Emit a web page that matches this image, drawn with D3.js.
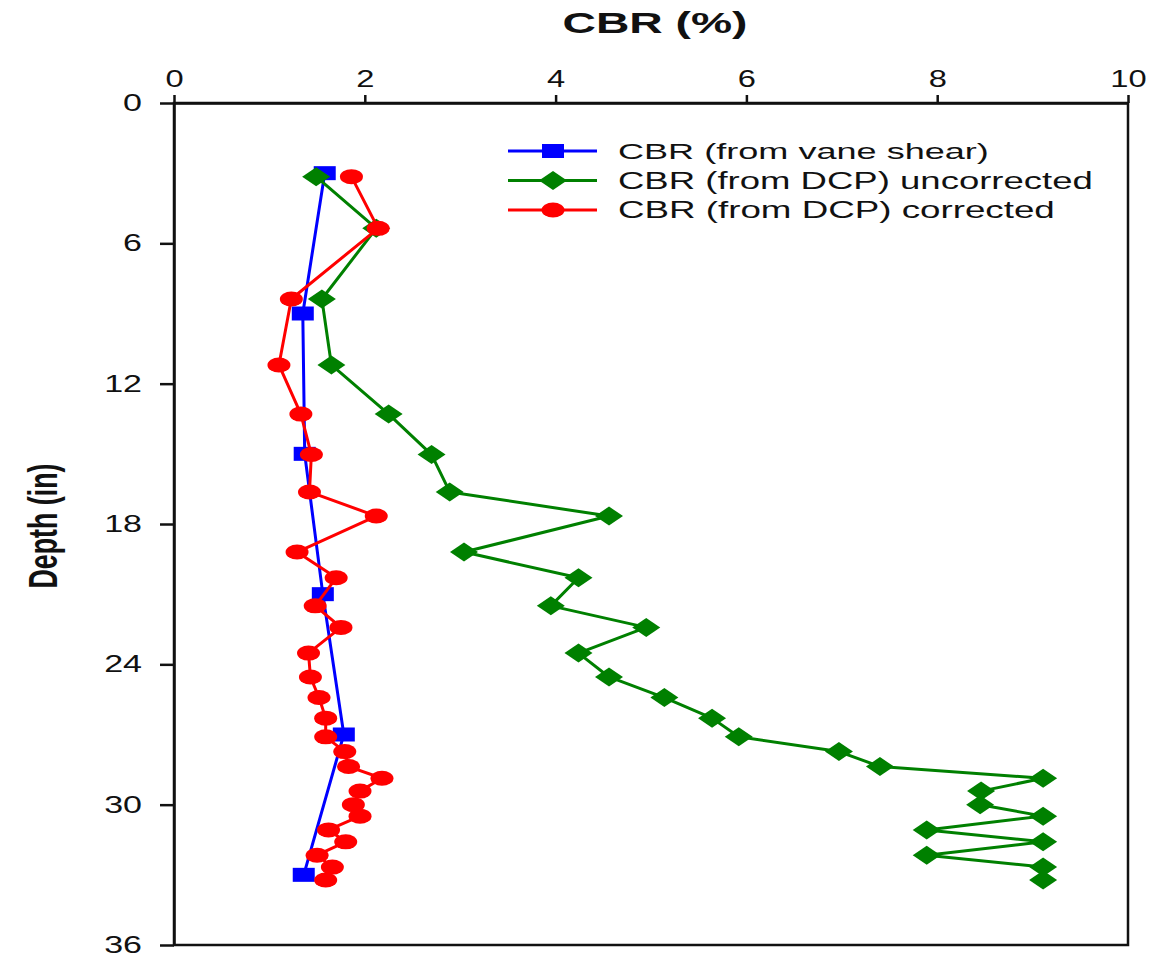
<!DOCTYPE html>
<html>
<head>
<meta charset="utf-8">
<script src="https://cdn.jsdelivr.net/npm/d3@7"></script>
<style>
  html, body { margin: 0; padding: 0; background: #fff; }
  svg { display: block; font-family: "Liberation Sans", Arial, sans-serif; }
</style>
</head>
<body>
<svg id="chart" width="1170" height="956"></svg>
<script>
// ---- data ----
const xTicks = [0, 2, 4, 6, 8, 10];
const yTicks = [0, 6, 12, 18, 24, 30, 36];

const vaneDepth = [3, 9, 15, 21, 27, 33];
const vaneCBR   = [1.58, 1.35, 1.37, 1.56, 1.78, 1.36];

const dcpDepth = [3.15, 5.36, 8.38, 11.2, 13.3, 15.03, 16.63, 17.66, 19.2, 20.3,
                  21.5, 22.42, 23.52, 24.54, 25.42, 26.3, 27.1, 27.73, 28.37, 28.87,
                  29.42, 30.0, 30.49, 31.08, 31.59, 32.16, 32.67, 33.22];
const dcpUncorrected = [1.49, 2.12, 1.55, 1.65, 2.25, 2.70, 2.89, 4.56, 3.04, 4.24,
                        3.95, 4.95, 4.24, 4.56, 5.14, 5.64, 5.92, 6.97, 7.40, 9.11,
                        8.46, 8.45, 9.11, 7.89, 9.11, 7.89, 9.11, 9.11];
const dcpCorrected = [1.86, 2.14, 1.23, 1.10, 1.33, 1.44, 1.42, 2.12, 1.29, 1.70,
                      1.48, 1.75, 1.41, 1.43, 1.52, 1.59, 1.59, 1.79, 1.83, 2.18,
                      1.95, 1.88, 1.95, 1.62, 1.80, 1.50, 1.66, 1.59];

const seriesNames = ["CBR (from vane shear)", "CBR (from DCP) uncorrected", "CBR (from DCP) corrected"];
const seriesColors = ["#0000ff", "#008000", "#ff0000"];
const seriesMarkers = ["square", "diamond", "circle"];

// ---- layout ----
const svg = d3.select("#chart");
const plotL = 174, plotR = 1128, plotT = 103, plotB = 945;
const x = d3.scaleLinear().domain([0, 10]).range([plotL, plotR]);
const y = d3.scaleLinear().domain([0, 36]).range([plotT, plotB]);

function stretchText(sel, sx, target) {
  sel.each(function () {
    const t = d3.select(this);
    const tx = +t.attr("x") || 0;
    const ty = +t.attr("y") || 0;
    let s = sx;
    if (target) s = target / this.getComputedTextLength();
    t.attr("x", 0).attr("y", 0)
     .attr("transform", `translate(${tx},${ty}) scale(${s},1)`);
  });
}

// frame
svg.append("rect")
  .attr("x", plotL).attr("y", plotT)
  .attr("width", plotR - plotL).attr("height", plotB - plotT)
  .attr("fill", "none").attr("stroke", "#111").attr("stroke-width", 2.5);

// top axis
const gx = svg.append("g").attr("transform", `translate(0,${plotT})`)
  .call(d3.axisTop(x).tickValues(xTicks).tickSize(8).tickSizeOuter(0).tickPadding(8));
gx.select(".domain").attr("stroke", "#111").attr("stroke-width", 2.5);
gx.selectAll(".tick line").attr("stroke", "#111").attr("stroke-width", 2.5);
gx.selectAll(".tick text").attr("font-size", 23).attr("fill", "#111")
  .attr("font-family", "Liberation Sans, Arial, sans-serif");
stretchText(gx.selectAll(".tick text"), 1.42);

// left axis
const gy = svg.append("g").attr("transform", `translate(${plotL},0)`)
  .call(d3.axisLeft(y).tickValues(yTicks).tickSize(14).tickSizeOuter(0).tickPadding(18));
gy.select(".domain").attr("stroke", "#111").attr("stroke-width", 2.5);
gy.selectAll(".tick line").attr("stroke", "#111").attr("stroke-width", 2.5);
gy.selectAll(".tick text").attr("font-size", 23).attr("fill", "#111")
  .attr("font-family", "Liberation Sans, Arial, sans-serif");
stretchText(gy.selectAll(".tick text"), 1.48);

// title
const title = svg.append("text")
  .attr("x", 655).attr("y", 33)
  .attr("text-anchor", "middle")
  .attr("font-size", 29).attr("font-weight", "bold").attr("fill", "#111")
  .text("CBR (%)");
stretchText(title, null, 185);

// y label
const ylab = svg.append("text")
  .attr("text-anchor", "middle")
  .attr("font-size", 40).attr("font-weight", "bold").attr("fill", "#111")
  .text("Depth (in)");
{
  const w = ylab.node().getComputedTextLength();
  ylab.attr("transform", `translate(57,526) rotate(-90) scale(${125 / w},1)`);
}

// marker drawing
function drawMarker(g, type, cx, cy, color) {
  if (type === "square") {
    g.append("rect").attr("x", cx - 11).attr("y", cy - 7)
      .attr("width", 22).attr("height", 14).attr("fill", color);
  } else if (type === "diamond") {
    g.append("path")
      .attr("d", `M${cx - 14},${cy}L${cx},${cy - 9.5}L${cx + 14},${cy}L${cx},${cy + 9.5}Z`)
      .attr("fill", color);
  } else {
    g.append("ellipse").attr("cx", cx).attr("cy", cy)
      .attr("rx", 11.5).attr("ry", 7.5).attr("fill", color);
  }
}

const series = [
  { depth: vaneDepth, vals: vaneCBR },
  { depth: dcpDepth, vals: dcpUncorrected },
  { depth: dcpDepth, vals: dcpCorrected }
];

const line = d3.line().x(d => x(d[0])).y(d => y(d[1]));

series.forEach((s, i) => {
  const pts = s.vals.map((v, j) => [v, s.depth[j]]);
  const g = svg.append("g");
  g.append("path").attr("d", line(pts))
    .attr("fill", "none").attr("stroke", seriesColors[i])
    .attr("stroke-width", 3).attr("stroke-linejoin", "round");
  pts.forEach(p => drawMarker(g, seriesMarkers[i], x(p[0]), y(p[1]), seriesColors[i]));
});

// legend
const legendTargets = [371, 475, 437];
const lg = svg.append("g");
seriesNames.forEach((name, i) => {
  const ly = 151 + i * 29.5;
  lg.append("line").attr("x1", 508).attr("x2", 597).attr("y1", ly).attr("y2", ly)
    .attr("stroke", seriesColors[i]).attr("stroke-width", 3);
  drawMarker(lg, seriesMarkers[i], 553, ly, seriesColors[i]);
  const t = lg.append("text").attr("x", 618).attr("y", ly + 8)
    .attr("font-size", 23).attr("fill", "#111").text(name);
  stretchText(t, null, legendTargets[i]);
});
</script>
</body>
</html>
